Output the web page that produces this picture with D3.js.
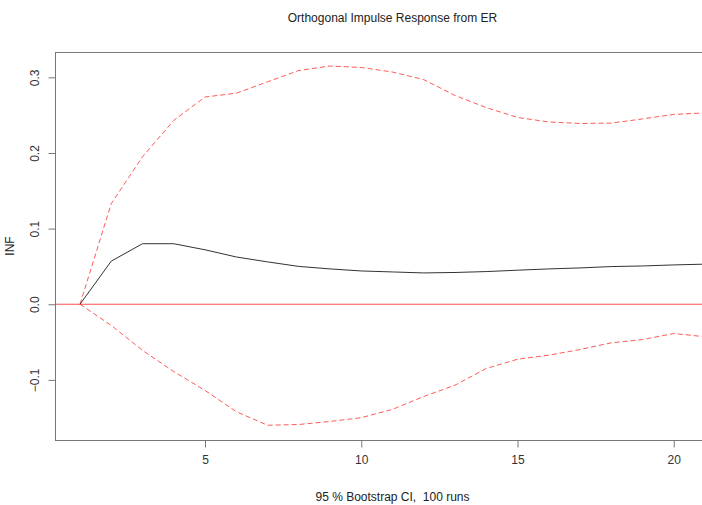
<!DOCTYPE html>
<html lang="en">
<head>
    <meta charset="UTF-8" />
    <title>Orthogonal Impulse Response from ER</title>
    <script src="https://d3js.org/d3.v7.min.js"></script>
    <style>
        body {
            margin: 0;
            background: #fff;
            font-family: "Liberation Sans", Arial, sans-serif;
        }

        .box {
            fill: none;
            stroke: #777;
            stroke-width: 1;
        }

        .tick-label {
            font-size: 12px;
            fill: #333;
        }

        .resp {
            fill: none;
            stroke: #333;
            stroke-width: 1;
        }

        .ci {
            fill: none;
            stroke: #ff3030;
            stroke-opacity: 0.8;
            stroke-width: 1;
            stroke-dasharray: 5, 3;
        }

        .zero {
            stroke: #ff3030;
            stroke-opacity: 0.85;
            stroke-width: 1;
        }
    </style>
</head>

<body>
    <div id="chart"></div>

    <script>
        // horizon 1..21
        var steps = d3.range(1, 22);

        // orthogonal impulse response of INF to a shock in ER
        var response = [0, 0.057, 0.080, 0.080, 0.072, 0.0625, 0.056, 0.050, 0.0467, 0.044,
                        0.0427, 0.0414, 0.042, 0.0432, 0.045, 0.0467, 0.048, 0.0498, 0.0506, 0.052, 0.053];

        // 95 % bootstrap bands
        var upper = [0, 0.133, 0.195, 0.243, 0.274, 0.279, 0.294, 0.309, 0.315, 0.313,
                     0.307, 0.297, 0.276, 0.260, 0.247, 0.241, 0.239, 0.2395, 0.245, 0.251, 0.253];
        var lower = [0, -0.028, -0.061, -0.089, -0.114, -0.142, -0.160, -0.159, -0.155, -0.150,
                     -0.139, -0.122, -0.107, -0.085, -0.0727, -0.0674, -0.0599, -0.051, -0.0467, -0.0387, -0.043];

        var xTicks = [5, 10, 15, 20];
        var yTicks = [-0.1, 0.0, 0.1, 0.2, 0.3];

        (function init() {
            var w = 702;
            var h = 505;
            var pLeft = 55, pTop = 52, pBottom = 440, pRight = 730;

            var svg = d3.select("#chart")
                .append("svg")
                .attr("width", w)
                .attr("height", h);

            var xScale = d3.scaleLinear()
                .domain([0.2, 21.8])
                .range([pLeft, pRight]);

            var yScale = d3.scaleLinear()
                .domain([-0.1795, 0.3335])
                .range([pBottom, pTop]);

            // plot box
            svg.append("rect")
                .attr("class", "box")
                .attr("x", pLeft + 0.5)
                .attr("y", pTop + 0.5)
                .attr("width", pRight - pLeft)
                .attr("height", pBottom - pTop);

            // zero line
            svg.append("line")
                .attr("class", "zero")
                .attr("x1", pLeft)
                .attr("x2", pRight)
                .attr("y1", yScale(0))
                .attr("y2", yScale(0));

            var line = function(vals) {
                return d3.line()
                    .x(function(d, i) { return xScale(steps[i]); })
                    .y(function(d) { return yScale(d); })(vals);
            };

            svg.append("path").attr("class", "ci").attr("d", line(upper));
            svg.append("path").attr("class", "ci").attr("d", line(lower));
            svg.append("path").attr("class", "resp").attr("d", line(response));

            // x axis
            var xAxis = svg.append("g")
                .attr("transform", "translate(0," + (pBottom + 0.5) + ")")
                .call(d3.axisBottom(xScale).tickValues(xTicks).tickSize(7).tickSizeOuter(0)
                    .tickPadding(8).tickFormat(d3.format("d")));
            xAxis.select(".domain").remove();
            xAxis.selectAll(".tick line").attr("stroke", "#777");
            xAxis.selectAll(".tick text")
                .attr("class", "tick-label")
                .style("font-family", "Liberation Sans, Arial, sans-serif")
                .attr("fill", "#333");

            // y axis
            var yAxis = svg.append("g")
                .attr("transform", "translate(" + (pLeft + 0.5) + ",0)")
                .call(d3.axisLeft(yScale).tickValues(yTicks).tickSize(7).tickSizeOuter(0)
                    .tickFormat(d3.format(".1f")));
            yAxis.select(".domain").remove();
            yAxis.selectAll(".tick line").attr("stroke", "#777");
            yAxis.selectAll(".tick text")
                .attr("class", "tick-label")
                .style("font-family", "Liberation Sans, Arial, sans-serif")
                .attr("fill", "#333")
                .attr("x", 0)
                .attr("dy", null)
                .attr("text-anchor", "middle")
                .attr("transform", "translate(-17,0) rotate(-90)");

            // title and labels
            svg.append("text")
                .attr("x", (pLeft + pRight) / 2)
                .attr("y", 22)
                .attr("text-anchor", "middle")
                .attr("font-size", "12px")
                .attr("fill", "#222")
                .text("Orthogonal Impulse Response from ER");

            svg.append("text")
                .attr("x", (pLeft + pRight) / 2)
                .attr("y", 501)
                .attr("text-anchor", "middle")
                .attr("font-size", "12px")
                .attr("fill", "#222")
                .style("white-space", "pre")
                .text("95 % Bootstrap CI,  100 runs");

            svg.append("text")
                .attr("transform", "translate(14," + ((pTop + pBottom) / 2) + ") rotate(-90)")
                .attr("text-anchor", "middle")
                .attr("font-size", "12px")
                .attr("fill", "#222")
                .text("INF");
        })();
    </script>
</body>
</html>
